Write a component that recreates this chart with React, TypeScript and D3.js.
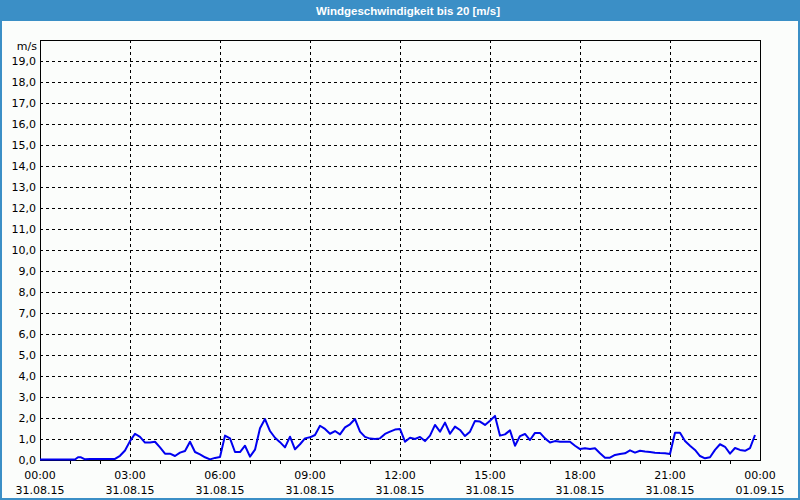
import React from "react";
import * as d3 from "d3";

const title = "Windgeschwindigkeit bis 20 [m/s]";
const unitLabel = "m/s";
const minutes = [0, 70, 76, 82, 90, 100, 150, 160, 170, 180, 190, 200, 210, 220, 230, 240, 250, 260, 270, 280, 290, 300, 310, 320, 330, 340, 350, 360, 370, 380, 390, 400, 410, 420, 430, 440, 450, 460, 470, 480, 490, 500, 510, 520, 530, 540, 550, 560, 570, 580, 590, 600, 610, 620, 630, 640, 650, 660, 670, 680, 690, 700, 710, 720, 730, 740, 750, 760, 770, 780, 790, 800, 810, 820, 830, 840, 850, 860, 870, 880, 890, 900, 910, 920, 930, 940, 950, 960, 970, 980, 990, 1000, 1010, 1020, 1030, 1040, 1050, 1060, 1070, 1080, 1090, 1100, 1110, 1120, 1130, 1140, 1150, 1160, 1170, 1180, 1190, 1200, 1210, 1220, 1230, 1240, 1250, 1260, 1270, 1280, 1290, 1300, 1310, 1320, 1330, 1340, 1350, 1360, 1370, 1380, 1390, 1400, 1410, 1420, 1430];
const speeds = [0.02, 0.02, 0.13, 0.13, 0.03, 0.05, 0.05, 0.2, 0.45, 0.9, 1.25, 1.1, 0.83, 0.83, 0.87, 0.6, 0.3, 0.3, 0.19, 0.35, 0.43, 0.87, 0.38, 0.27, 0.13, 0.03, 0.1, 0.14, 1.16, 1.03, 0.38, 0.38, 0.68, 0.16, 0.49, 1.51, 1.95, 1.38, 1.06, 0.85, 0.6, 1.11, 0.51, 0.75, 1.03, 1.08, 1.19, 1.63, 1.48, 1.25, 1.38, 1.22, 1.55, 1.7, 1.95, 1.35, 1.1, 1.02, 1.0, 1.03, 1.24, 1.35, 1.45, 1.48, 0.87, 1.06, 1.0, 1.1, 0.9, 1.16, 1.67, 1.35, 1.78, 1.25, 1.59, 1.43, 1.14, 1.35, 1.86, 1.83, 1.67, 1.87, 2.1, 1.16, 1.22, 1.41, 0.68, 1.14, 1.24, 0.95, 1.29, 1.29, 1.03, 0.83, 0.9, 0.87, 0.87, 0.87, 0.68, 0.52, 0.56, 0.52, 0.56, 0.32, 0.11, 0.11, 0.24, 0.29, 0.32, 0.46, 0.35, 0.44, 0.4, 0.38, 0.35, 0.33, 0.32, 0.29, 1.3, 1.3, 0.9, 0.68, 0.48, 0.19, 0.08, 0.13, 0.48, 0.75, 0.63, 0.3, 0.57, 0.48, 0.44, 0.57, 1.19];
const yTicks = [0, 1, 2, 3, 4, 5, 6, 7, 8, 9, 10, 11, 12, 13, 14, 15, 16, 17, 18, 19];
const xTickTimes = ["00:00", "03:00", "06:00", "09:00", "12:00", "15:00", "18:00", "21:00", "00:00"];
const xTickDates = ["31.08.15", "31.08.15", "31.08.15", "31.08.15", "31.08.15", "31.08.15", "31.08.15", "31.08.15", "01.09.15"];

const W = 800, H = 500;
const L = 40, R = 760, T = 40, B = 460;
const FONT = "Tahoma, 'DejaVu Sans', sans-serif";

export default function App() {
  const x = d3.scaleLinear().domain([0, 1440]).range([L, R]);
  const y = d3.scaleLinear().domain([0, 20]).range([B, T]);
  const line = d3.line<number>().x((_, i) => x(minutes[i])).y((d) => y(d));
  const hours = d3.range(1, 24);
  const majors = xTickTimes.map((_, i) => i * 180);
  return (
    <svg width={W} height={H} style={{ position: "absolute", left: 0, top: 0 }}>
      <rect x={0} y={0} width={W} height={H} fill="#fbfdfb" />
      <rect x={0} y={0} width={W} height={21} fill="#3b8fc6" />
      <rect x={0.5} y={0.5} width={W - 1} height={H - 1} fill="none" stroke="#3b8fc6" strokeWidth={1} />
      <rect x={1.5} y={20} width={W - 3} height={H - 21.5} fill="none" stroke="#3b8fc6" strokeWidth={1} />
      <text x={408} y={15} textAnchor="middle" fill="#fff" fontFamily="'Liberation Sans', Arial, sans-serif" fontSize={11.5} fontWeight="bold">{title}</text>
      {yTicks.filter((v) => v > 0).map((v) => (
        <line key={"h" + v} x1={L} x2={R} y1={Math.round(y(v)) + 0.5} y2={Math.round(y(v)) + 0.5} stroke="#000" strokeDasharray="3,3" strokeWidth={1} />
      ))}
      {majors.slice(1, -1).map((m) => (
        <line key={"v" + m} x1={Math.round(x(m)) + 0.5} x2={Math.round(x(m)) + 0.5} y1={T} y2={B} stroke="#000" strokeDasharray="3,3" strokeWidth={1} />
      ))}
      {hours.map((h) => (
        <line key={"t" + h} x1={Math.round(x(h * 60)) + 0.5} x2={Math.round(x(h * 60)) + 0.5} y1={B} y2={B + 4} stroke="#000" strokeWidth={1} />
      ))}
      <rect x={L + 0.5} y={T + 0.5} width={R - L} height={B - T} fill="none" stroke="#000" strokeWidth={1} />
      <path d={line(speeds) || ""} fill="none" stroke="#0000f0" strokeWidth={2} strokeLinejoin="round" />
      <text x={37} y={50} textAnchor="end" fontFamily={FONT} fontSize={11} fill="#000">{unitLabel}</text>
      {yTicks.map((v) => (
        <text key={"yl" + v} x={36} y={y(v) + 4} textAnchor="end" fontFamily={FONT} fontSize={11} fill="#000">{v.toFixed(1).replace(".", ",")}</text>
      ))}
      {xTickTimes.map((t, i) => (
        <g key={"xl" + i}>
          <text x={x(majors[i])} y={479} textAnchor="middle" fontFamily={FONT} fontSize={11} fill="#000">{t}</text>
          <text x={x(majors[i])} y={494} textAnchor="middle" fontFamily={FONT} fontSize={11} fill="#000">{xTickDates[i]}</text>
        </g>
      ))}
    </svg>
  );
}
